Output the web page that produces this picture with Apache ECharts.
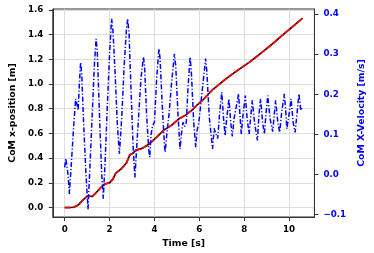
<!DOCTYPE html>
<html><head><meta charset="utf-8">
<script src="https://cdn.jsdelivr.net/npm/echarts@6/dist/echarts.min.js"></script>
<style>html,body{margin:0;padding:0;background:#fff}#c{width:374px;height:253px}</style>
</head><body><div id="c"></div>
<script>
const posTime = [0, 0.2, 0.4, 0.6, 0.82, 1.03, 1.23, 1.4, 1.58, 1.79, 2.0, 2.15, 2.27, 2.55, 2.75, 2.9, 3.04, 3.18, 3.45, 3.65, 3.87, 4.1, 4.42, 4.77, 5.11, 5.4, 5.67, 5.9, 6.15, 6.57, 7.2, 7.7, 8.24, 8.75, 9.27, 9.8, 10.2, 10.6];
const posValue = [0, 0, 0.002, 0.02, 0.062, 0.094, 0.09, 0.12, 0.156, 0.19, 0.2, 0.23, 0.277, 0.318, 0.36, 0.425, 0.44, 0.465, 0.479, 0.5, 0.532, 0.57, 0.627, 0.667, 0.72, 0.75, 0.788, 0.83, 0.869, 0.95, 1.044, 1.11, 1.177, 1.25, 1.326, 1.41, 1.47, 1.532];
const velTime = [0.0,0.05,0.1,0.15,0.21,0.3,0.4,0.49,0.55,0.6,0.65,0.71,0.76,0.85,0.95,1.04,1.15,1.25,1.33,1.40,1.45,1.55,1.65,1.72,1.8,1.9,2.0,2.09,2.15,2.25,2.35,2.44,2.55,2.65,2.75,2.81,2.87,2.95,3.05,3.13,3.2,3.3,3.4,3.51,3.56,3.65,3.75,3.79,3.85,3.92,4.0,4.1,4.2,4.25,4.35,4.45,4.48,4.55,4.65,4.75,4.89,4.95,5.05,5.14,5.2,5.27,5.35,5.42,5.5,5.59,5.65,5.75,5.84,5.9,5.98,6.05,6.15,6.28,6.33,6.45,6.59,6.66,6.75,6.82,6.9,7.0,7.08,7.15,7.22,7.32,7.4,7.47,7.55,7.65,7.75,7.81,7.87,7.95,8.05,8.13,8.22,8.3,8.36,8.46,8.59,8.66,8.73,8.82,8.9,8.97,9.05,9.15,9.27,9.34,9.4,9.5,9.58,9.68,9.79,9.85,9.9,10.0,10.09,10.18,10.27,10.35,10.44,10.52,10.6];
const velValue = [0.018,0.04,0.043,0.0,-0.048,0.03,0.12,0.189,0.175,0.16,0.22,0.28,0.25,0.12,0.0,-0.086,0.05,0.18,0.28,0.338,0.31,0.15,0.0,-0.06,0.03,0.17,0.3,0.388,0.36,0.25,0.12,0.052,0.15,0.27,0.36,0.388,0.35,0.22,0.07,-0.007,0.06,0.15,0.24,0.293,0.27,0.15,0.06,0.043,0.1,0.122,0.13,0.24,0.313,0.29,0.17,0.07,0.056,0.1,0.15,0.22,0.301,0.27,0.15,0.064,0.1,0.13,0.12,0.13,0.22,0.293,0.25,0.13,0.068,0.11,0.13,0.13,0.22,0.289,0.26,0.14,0.064,0.115,0.1,0.09,0.15,0.205,0.14,0.097,0.14,0.189,0.13,0.095,0.14,0.17,0.201,0.15,0.101,0.15,0.197,0.14,0.101,0.15,0.185,0.13,0.085,0.15,0.189,0.13,0.101,0.15,0.197,0.14,0.107,0.15,0.185,0.13,0.105,0.16,0.201,0.16,0.114,0.15,0.189,0.13,0.105,0.15,0.201,0.16,0.17];
const xTicks = [0, 2, 4, 6, 8, 10];
const leftTicks = [0, 0.2, 0.4, 0.6, 0.8, 1.0, 1.2, 1.4, 1.6];
const rightTicks = [-0.1, 0, 0.1, 0.2, 0.3, 0.4];

const FONT = 'DejaVu Sans';
const chart = echarts.init(document.getElementById('c'), null, {renderer: 'canvas'});
const zip = (a, b) => a.map((v, i) => [v, b[i]]);
chart.setOption({
  animation: false,
  backgroundColor: '#fff',
  grid: {left: 43, right: 51.3, top: 9, bottom: 36, show: true, borderColor: '#333', borderWidth: 1, backgroundColor: 'transparent'},
  xAxis: {
    type: 'value', min: -0.53, max: 11.13,
    name: 'Time [s]', nameLocation: 'middle', nameGap: 20,
    nameTextStyle: {fontFamily: FONT, fontWeight: 'bold', fontSize: 9.3, color: '#000'},
    axisLine: {show: true, onZero: false, lineStyle: {color: '#333', width: 1}},
    axisTick: {show: true, length: 4, customValues: xTicks, lineStyle: {color: '#333'}},
    axisLabel: {customValues: xTicks, margin: 8, fontFamily: FONT, fontWeight: 'bold', fontSize: 8.7, color: '#000'},
    splitLine: {show: true, lineStyle: {color: '#d6d6d6', width: 0.8}}
  },
  yAxis: [{
    type: 'value', min: -0.0765, max: 1.607, position: 'left',
    name: 'CoM x-position [m]', nameLocation: 'middle', nameGap: 28, nameRotate: 90,
    nameTextStyle: {fontFamily: FONT, fontWeight: 'bold', fontSize: 9.3, color: '#000'},
    axisLine: {show: true, onZero: false, lineStyle: {color: '#333', width: 1}},
    axisTick: {show: true, length: 4, customValues: leftTicks, lineStyle: {color: '#333'}},
    axisLabel: {customValues: leftTicks, margin: 9.5, fontFamily: FONT, fontWeight: 'bold', fontSize: 8.7, color: '#000',
      formatter: v => v.toFixed(1)},
    splitLine: {show: true, lineStyle: {color: '#d6d6d6', width: 0.8}}
  }, {
    type: 'value', min: -0.1057, max: 0.4125, position: 'right',
    name: 'CoM X-Velocity [m/s]', nameLocation: 'middle', nameGap: 35.6, nameRotate: 90,
    nameTextStyle: {fontFamily: FONT, fontWeight: 'bold', fontSize: 9.3, color: '#0000ff'},
    axisLine: {show: true, onZero: false, lineStyle: {color: '#333', width: 1}},
    axisTick: {show: true, length: 4, customValues: rightTicks, lineStyle: {color: '#333'}},
    axisLabel: {customValues: rightTicks, margin: 9, fontFamily: FONT, fontWeight: 'bold', fontSize: 8.7, color: '#0000ff',
      formatter: v => (v < 0 ? '\u2212' : '') + Math.abs(v).toFixed(1)},
    splitLine: {show: false}
  }],
  series: [{
    type: 'line', yAxisIndex: 0, data: zip(posTime, posValue), showSymbol: false,
    lineStyle: {color: '#000', width: 1.6}
  }, {
    type: 'line', yAxisIndex: 0, data: zip(posTime, posValue), showSymbol: false,
    lineStyle: {color: '#ff0000', width: 1.8, type: [6, 2]}
  }, {
    type: 'line', yAxisIndex: 1, data: zip(velTime, velValue), showSymbol: false,
    lineStyle: {color: '#0000ff', width: 1.5, type: [5, 2, 1.2, 2]}
  }]
});
</script></body></html>
